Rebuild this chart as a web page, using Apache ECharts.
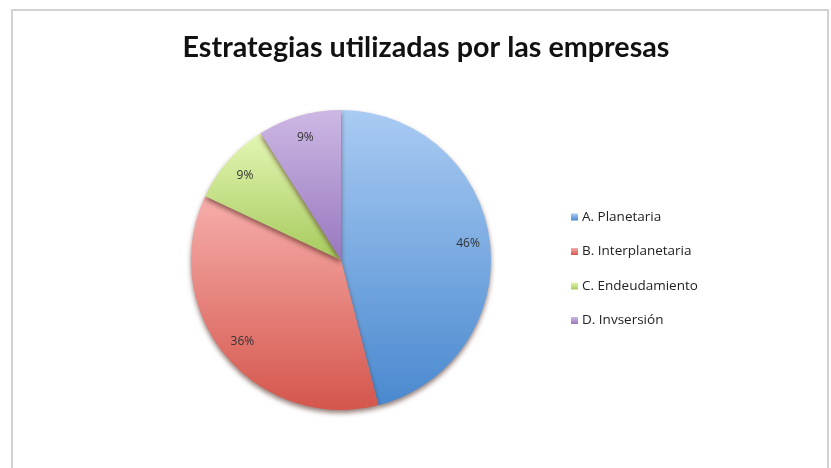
<!DOCTYPE html>
<html>
<head>
<meta charset="utf-8">
<script src="https://cdn.jsdelivr.net/npm/echarts@6/dist/echarts.min.js"></script>
<style>
html,body{margin:0;padding:0;background:#fff;}
#frame{position:absolute;left:11px;top:9px;width:818px;height:470px;border-left:2px solid #d2d2d2;border-top:2px solid #d2d2d2;border-right:2px solid #d2d2d2;box-sizing:border-box;}
#chart{position:absolute;left:0;top:0;width:831px;height:468px;}
</style>
</head>
<body>
<div id="frame"></div>
<div id="chart"></div>
<script>
const titleText = 'Estrategias utilizadas por las empresas';
const categories = ['A. Planetaria', 'B. Interplanetaria', 'C. Endeudamiento', 'D. Invsersión'];
const values = [46, 36, 9, 9];
const topColors = ['#a9cbf3', '#f7aeab', '#e3f6b4', '#cdb8e4'];
const bottomColors = ['#4a89cf', '#d4564c', '#a6ca5c', '#9878bf'];

const chart = echarts.init(document.getElementById('chart'));

const mainData = categories.map((name, i) => ({
  name,
  value: values[i],
  itemStyle: {
    color: new echarts.graphic.LinearGradient(0, 0, 0, 1, [
      {offset: 0, color: topColors[i]},
      {offset: 1, color: bottomColors[i]}
    ])
  }
}));
const labelData = categories.map((name, i) => ({name, value: values[i]}));

chart.setOption({
  animation: false,
  title: {
    text: titleText,
    left: 421,
    textAlign: 'center',
    top: 28,
    textStyle: {fontFamily: 'Lato', fontWeight: 'bold', fontSize: 28.7, color: '#111'}
  },
  legend: {
    orient: 'vertical',
    left: 566,
    top: 205,
    itemWidth: 7,
    itemHeight: 7,
    itemGap: 20.5,
    icon: 'rect',
    textStyle: {fontFamily: 'Open Sans', fontSize: 13.5, color: '#222', padding: [0, 0, 0, -1]},
    data: categories
  },
  series: [
    {
      type: 'pie',
      center: [341, 260],
      radius: 150,
      startAngle: 90,
      clockwise: true,
      label: {show: false},
      labelLine: {show: false},
      itemStyle: {
        borderWidth: 0,
        shadowColor: 'rgba(60,20,10,0.55)',
        shadowBlur: 5,
        shadowOffsetY: 3
      },
      emphasis: {disabled: true},
      data: mainData
    },
    {
      type: 'pie',
      center: [341, 260],
      radius: [100, 150],
      startAngle: 90,
      clockwise: true,
      silent: true,
      itemStyle: {color: 'rgba(0,0,0,0)'},
      label: {
        show: true,
        position: 'inside',
        formatter: '{c}%',
        fontFamily: 'Open Sans',
        fontSize: 12,
        color: '#333'
      },
      labelLine: {show: false},
      emphasis: {disabled: true},
      data: labelData
    }
  ]
});
</script>
</body>
</html>
